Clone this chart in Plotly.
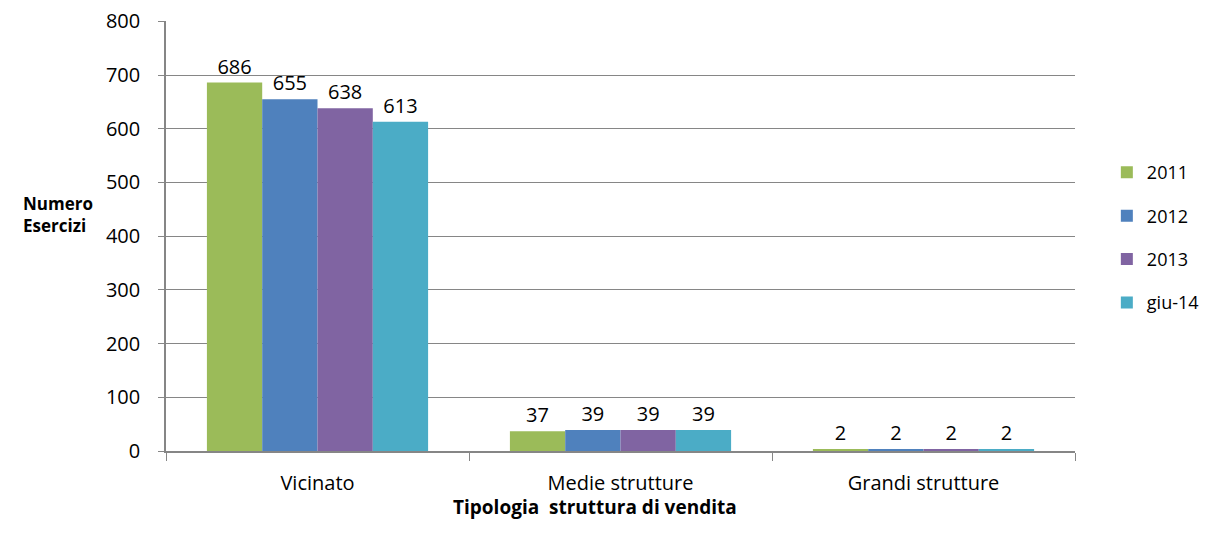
import plotly.graph_objects as go

categories = ["Vicinato", "Medie strutture", "Grandi strutture"]
series_names = ["2011", "2012", "2013", "giu-14"]
values_2011 = [686, 37, 2]
values_2012 = [655, 39, 2]
values_2013 = [638, 39, 2]
values_giu14 = [613, 39, 2]
series_values = [values_2011, values_2012, values_2013, values_giu14]
colors = ["#9BBB59", "#4F81BD", "#8064A2", "#4BACC6"]
y_ticks = [0, 100, 200, 300, 400, 500, 600, 700, 800]

FONT = "'Open Sans', sans-serif"

fig = go.Figure()
for name, vals, col in zip(series_names, series_values, colors):
    fig.add_trace(go.Bar(
        x=categories, y=vals, name=name, marker_color=col,
        marker_line_width=0, text=vals, textposition="outside",
        textfont=dict(size=20, color="#000"), cliponaxis=False,
        legendgroup=name,
    ))

fig.update_layout(
    width=1197, height=533,
    margin=dict(l=158, r=130, t=13, b=90, autoexpand=False),
    paper_bgcolor="white", plot_bgcolor="white",
    barmode="group", bargap=0.27, bargroupgap=0,
    font=dict(family=FONT, size=20, color="#000"),
    legend=dict(xref="container", yref="container", x=0.918, y=0.726,
                xanchor="left", yanchor="top",
                font=dict(size=18), tracegroupgap=17, traceorder="grouped"),
    showlegend=True,
)
fig.update_xaxes(
    showline=True, linecolor="#868686", linewidth=1.5,
    ticks="outside", tickson="boundaries", ticklen=8, tickcolor="#868686",
    ticklabelstandoff=13, showgrid=False, automargin=False,
)
fig.update_yaxes(
    range=[0, 800.6], tickvals=y_ticks, showgrid=True, gridcolor="#868686", gridwidth=1,
    showline=True, linecolor="#868686", linewidth=1.5,
    ticks="outside", ticklen=6, tickcolor="#868686", zeroline=False,
    ticklabeloverflow="allow", automargin=False, ticklabelstandoff=14,
)
fig.add_annotation(
    text="<b>Numero<br>Esercizi</b>", xref="paper", yref="paper",
    x=-0.078, y=0.55, xanchor="right", yanchor="middle", showarrow=False,
    align="left", font=dict(size=17),
)
fig.add_annotation(
    text="<b>Tipologia  struttura di vendita</b>", xref="paper", yref="paper",
    x=0.472, y=-0.13, xanchor="center", yanchor="middle", showarrow=False,
    font=dict(size=19),
)

fig.write_html("out.html")
